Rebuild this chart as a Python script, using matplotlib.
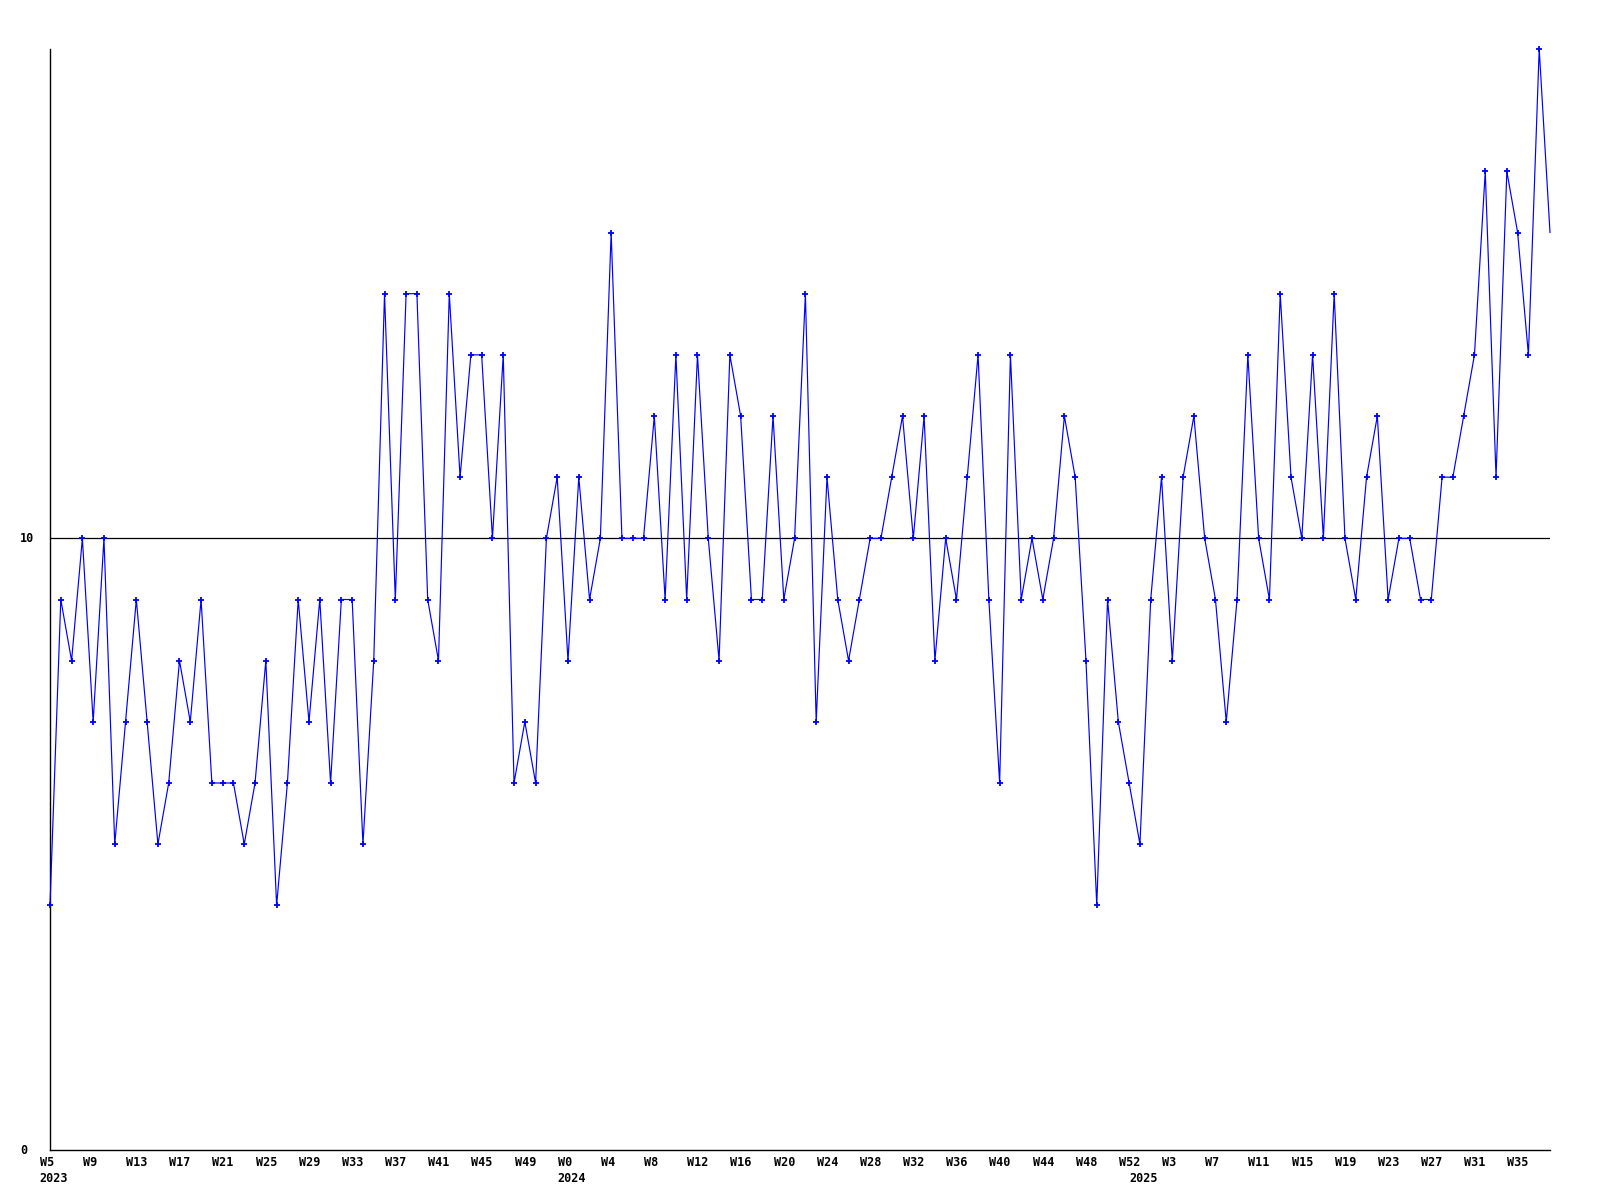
import numpy as np
import matplotlib
matplotlib.use("Agg")
import matplotlib.pyplot as plt
import matplotlib.transforms as mtransforms

# weekly values, 2023 W5 .. 2025 W38
vals_2023 = [4, 9, 8, 10, 7, 10, 5, 7, 9, 7, 5, 6, 8, 7, 9, 6, 6, 6, 5, 6,
             8, 4, 6, 9, 7, 9, 6, 9, 9, 5, 8, 14, 9, 14, 14, 9, 8, 14, 11, 13,
             13, 10, 13, 6, 7, 6, 10, 11]
vals_2024 = [8, 11, 9, 10, 15, 10, 10, 10, 12, 9, 13, 9, 13, 10, 8, 13, 12, 9, 9, 12,
             9, 10, 14, 7, 11, 9, 8, 9, 10, 10, 11, 12, 10, 12, 8, 10, 9, 11, 13, 9,
             6, 13, 9, 10, 9, 10, 12, 11, 8, 4, 9, 7, 6]
vals_2025 = [5, 9, 11, 8, 11, 12, 10, 9, 7, 9, 13, 10, 9, 14, 11, 10, 13, 10, 14, 10,
             9, 11, 12, 9, 10, 10, 9, 9, 11, 11, 12, 13, 16, 11, 16, 15, 13, 18, 15]

weeks_2023 = list(range(5, 53))
weeks_2024 = list(range(0, 53))
weeks_2025 = list(range(0, 39))
years = [2023, 2024, 2025]

values = vals_2023 + vals_2024 + vals_2025
weeks = weeks_2023 + weeks_2024 + weeks_2025
year_start = [0, len(vals_2023), len(vals_2023) + len(vals_2024)]
x = np.arange(len(values))

font = dict(family="DejaVu Sans Mono", fontweight="bold", fontsize=8.5)

fig = plt.figure(figsize=(16, 12), dpi=100)
ax = fig.add_axes([50 / 1600, 1 - 1150 / 1200, 1500 / 1600, 1101 / 1200])

ax.axhline(10, color="black", lw=0.9, zorder=1)
# the current (unfinished) week gets no marker
ax.plot(x, values, color="#0000ff", lw=0.85, marker="+", ms=4.5, mew=1.3,
        markevery=list(range(len(values) - 1)), zorder=3, clip_on=False)

ax.set_xlim(0, len(values) - 1)
ax.set_ylim(0, 18)
ax.set_xticks([])
ax.set_yticks([])
for s in ["top", "right"]:
    ax.spines[s].set_visible(False)
for s in ["left", "bottom"]:
    ax.spines[s].set_linewidth(1.0)
    ax.spines[s].set_color("black")

# labels every 4th week, years under the first week of each year
trans = mtransforms.blended_transform_factory(ax.transData, ax.transAxes)
for i in range(0, len(values), 4):
    ax.text(i - 0.95, -12 / 1101, "W%d" % weeks[i], transform=trans,
            ha="left", va="center", clip_on=False, **font)
for yr, i in zip(years, year_start):
    ax.text(i - 0.95, -28 / 1101, str(yr), transform=trans,
            ha="left", va="center", clip_on=False, **font)

for v in [0, 10]:
    fig.text(20 / 1600, ax.transData.transform((0, v))[1] / 1200, str(v),
             ha="left", va="center", **font)

fig.savefig("out.png", dpi=100, facecolor="white")
